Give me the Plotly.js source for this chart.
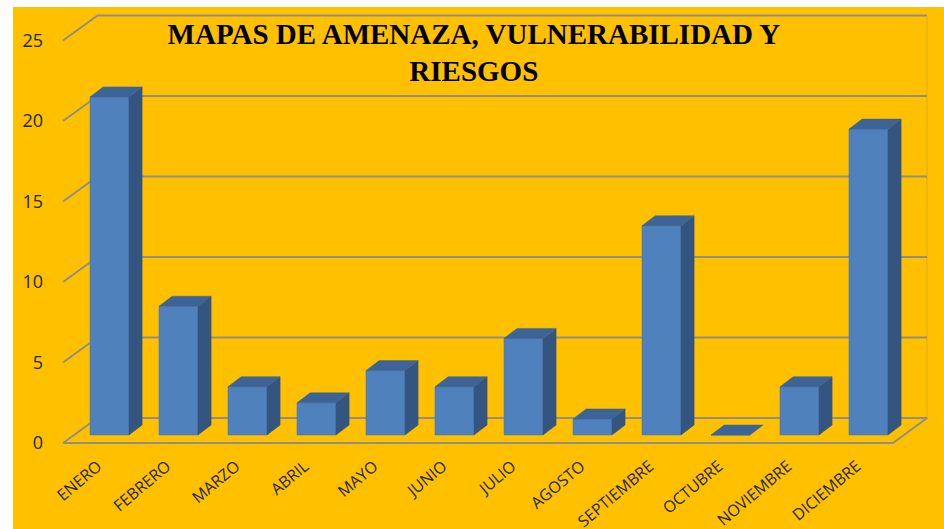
<!DOCTYPE html>
<html>
<head>
<meta charset="utf-8">
<script src="https://cdn.plot.ly/plotly-3.0.1.min.js"></script>
<style>
  html, body { margin: 0; padding: 0; background: #ffffff; }
  #chart { position: absolute; left: 13px; top: 7px; width: 931px; height: 522px; }
</style>
</head>
<body>
<div id="chart"></div>
<script>
// ---- data ----
const months = ['ENERO','FEBRERO','MARZO','ABRIL','MAYO','JUNIO','JULIO','AGOSTO','SEPTIEMBRE','OCTUBRE','NOVIEMBRE','DICIEMBRE'];
const values = [21, 8, 3, 2, 4, 3, 6, 1, 13, 0, 3, 19];
const yTicks = [0, 5, 10, 15, 20, 25];
const yTickText = ['0', '5', '10', '15', '20', '25'];
const titleText = 'MAPAS DE AMENAZA, VULNERABILIDAD Y<br>RIESGOS';

// ---- 3D projection constants (in axis units) ----
const xIdx = months.map((m, i) => i);
const LABEL_SHIFT = -0.17;    // category label offset
const BAR_W = 0.565;          // front face width (category units)
const DEPTH_X = 0.19;         // bar depth offset, x
const DEPTH_Y = 0.62;         // bar depth offset, y
const FLOOR_FRONT_Y = -0.5;   // floor front edge relative to bar base
const BACK_Y = 1.056;         // back wall relative to bar base
const LEFT_FRONT_X = -0.674, LEFT_BACK_X = -0.174;
const RIGHT_FRONT_X = 11.355, RIGHT_BACK_X = 11.848;

const gridColor = '#8f8f86';

// grid / walls
const gx = [], gy = [];
yTicks.forEach(v => {
  if (v === 0) return;
  gx.push(LEFT_FRONT_X, LEFT_BACK_X, RIGHT_BACK_X, null);
  gy.push(v + FLOOR_FRONT_Y, v + BACK_Y, v + BACK_Y, null);
});
// floor outline
const fx = [LEFT_BACK_X, LEFT_FRONT_X, RIGHT_FRONT_X, RIGHT_BACK_X, LEFT_BACK_X];
const fy = [BACK_Y, FLOOR_FRONT_Y, FLOOR_FRONT_Y, BACK_Y, BACK_Y];
// right back edge
const rx = [RIGHT_BACK_X, RIGHT_BACK_X];
const ry = [BACK_Y, yTicks[yTicks.length - 1] + BACK_Y];

// bar side and top faces (computed from values)
const sx = [], sy = [], tx = [], ty = [];
values.forEach((v, i) => {
  const L = i - BAR_W / 2, R = i + BAR_W / 2;
  if (v > 0) {
    sx.push(R, R + DEPTH_X, R + DEPTH_X, R, R, null);
    sy.push(0, DEPTH_Y, v + DEPTH_Y, v, 0, null);
  }
  tx.push(L, R, R + DEPTH_X, L + DEPTH_X, L, null);
  ty.push(v, v, v + DEPTH_Y, v + DEPTH_Y, v, null);
});

const traces = [
  { type: 'scatter', mode: 'lines', x: gx, y: gy, line: { color: gridColor, width: 2 }, hoverinfo: 'skip', zorder: -2, showlegend: false },
  { type: 'scatter', mode: 'lines', x: fx, y: fy, line: { color: gridColor, width: 2 }, hoverinfo: 'skip', zorder: -2, showlegend: false },
  { type: 'scatter', mode: 'lines', x: rx, y: ry, line: { color: 'rgba(160,140,80,0.35)', width: 1 }, hoverinfo: 'skip', zorder: -2, showlegend: false },
  { type: 'bar', x: xIdx, y: values, width: BAR_W, marker: { color: '#4f81bd', line: { color: '#4a7ab4', width: 0.6 } }, zorder: 0, showlegend: false },
  { type: 'scatter', mode: 'lines', x: sx, y: sy, fill: 'toself', fillcolor: '#34557f', line: { color: '#34557f', width: 0.5 }, zorder: 1, showlegend: false },
  { type: 'scatter', mode: 'lines', x: tx, y: ty, fill: 'toself', fillcolor: '#3d6496', line: { color: '#3d6496', width: 0.5 }, zorder: 1, showlegend: false }
];

const layout = {
  width: 931, height: 522,
  paper_bgcolor: '#ffc000', plot_bgcolor: 'rgba(0,0,0,0)',
  margin: { l: 31, r: 0, t: 0, b: 82 },
  showlegend: false,
  hovermode: false,
  bargap: 0,
  title: {
    text: titleText,
    font: { family: 'Liberation Serif, serif', size: 29, color: '#000000', weight: 'bold' },
    x: 0.495, xanchor: 'center', xref: 'container',
    y: 0.93, yanchor: 'top', yref: 'container'
  },
  xaxis: {
    range: [-0.9493, 12.094],
    tickmode: 'array', tickvals: xIdx.map(i => i + LABEL_SHIFT), ticktext: months,
    tickangle: -40,
    ticklabelstandoff: 6,
    tickfont: { family: 'Open Sans, sans-serif', size: 16, color: '#262626' },
    showgrid: false, zeroline: false, showline: false, ticks: ''
  },
  yaxis: {
    range: [-0.745, 26.584],
    tickmode: 'array', tickvals: yTicks.map(v => v + FLOOR_FRONT_Y), ticktext: yTickText,
    tickfont: { family: 'Open Sans, sans-serif', size: 18, color: '#262626' },
    showgrid: false, zeroline: false, showline: false, ticks: ''
  }
};

Plotly.newPlot('chart', traces, layout, { displayModeBar: false, staticPlot: true });
</script>
</body>
</html>
